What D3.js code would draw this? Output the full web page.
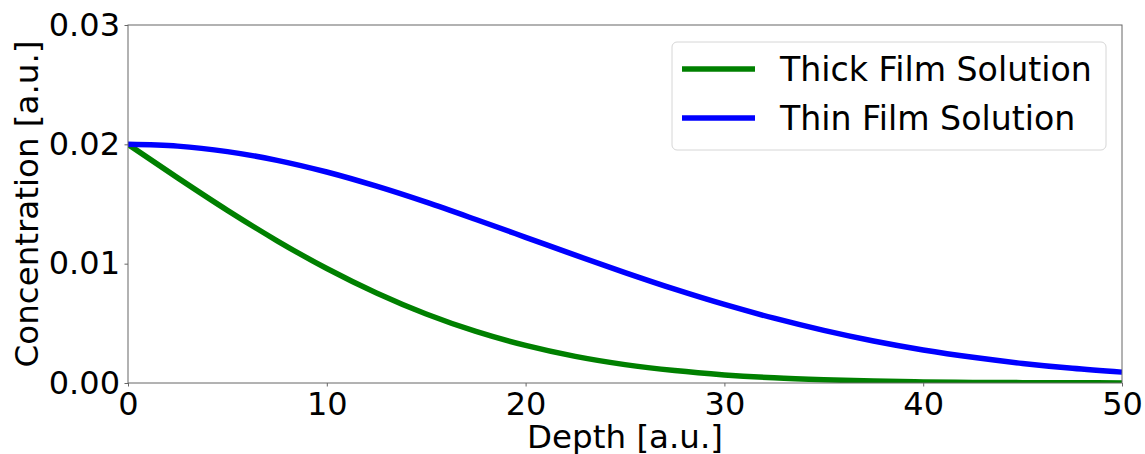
<!DOCTYPE html>
<html>
<head>
<meta charset="utf-8">
<script src="https://cdn.jsdelivr.net/npm/d3@7"></script>
<style>
  body { margin: 0; background: #fff; }
  svg { display: block; font-family: "DejaVu Sans", sans-serif; }
</style>
</head>
<body>
<svg id="chart" width="1145" height="454"></svg>
<script>
// depth samples [a.u.]
var depth = [0, 2.5, 5, 7.5, 10, 12.5, 15, 17.5, 20, 22.5, 25, 27.5, 30, 32.5, 35, 37.5, 40, 42.5, 45, 47.5, 50];
// concentration
var thickFilm = [0.0200, 0.01719, 0.01447, 0.01192, 0.00959, 0.00754, 0.00578, 0.00432, 0.00315, 0.00223,
  0.00154, 0.00104, 0.00068, 0.00043, 0.00027, 0.00016, 0.00009, 0.00005, 0.00003, 0.00002, 0.00001];
var thinFilm = [0.0200, 0.01985, 0.01939, 0.01866, 0.01768, 0.01649, 0.01515, 0.01370, 0.01221, 0.01071,
  0.00925, 0.00786, 0.00658, 0.00543, 0.00441, 0.00352, 0.00277, 0.00215, 0.00164, 0.00123, 0.00091];
var xTicks = [0, 10, 20, 30, 40, 50];
var yTicks = [0, 0.01, 0.02, 0.03];
var seriesNames = ["Thick Film Solution", "Thin Film Solution"];
var seriesColors = ["#008000", "#0000ff"];

var margin = {left: 128, top: 25, right: 23, bottom: 71};
var svg = d3.select("#chart");
var W = +svg.attr("width"), H = +svg.attr("height");
var w = W - margin.left - margin.right, h = H - margin.top - margin.bottom;

var x = d3.scaleLinear().domain([0, 50]).range([0, w]);
var y = d3.scaleLinear().domain([0, 0.03]).range([h, 0]);

var g = svg.append("g").attr("transform", "translate(" + margin.left + "," + margin.top + ")");

var series = [thickFilm, thinFilm];
var line = d3.line()
  .x(function(d, i) { return x(depth[i]); })
  .y(function(d) { return y(d); })
  .curve(d3.curveMonotoneX);

g.append("defs").append("clipPath").attr("id", "clip")
  .append("rect").attr("width", w).attr("height", h);

g.append("g").attr("clip-path", "url(#clip)")
  .selectAll("path.series").data(series).enter().append("path")
  .attr("class", "series")
  .attr("d", line)
  .attr("fill", "none")
  .attr("stroke", function(d, i) { return seriesColors[i]; })
  .attr("stroke-width", 5.5);

// frame
g.append("rect").attr("width", w).attr("height", h)
  .attr("fill", "none").attr("stroke", "#666").attr("stroke-width", 1);

var xAxis = g.append("g").attr("transform", "translate(0," + h + ")")
  .call(d3.axisBottom(x).tickValues(xTicks).tickFormat(d3.format("d")).tickSize(3.5).tickPadding(5.5));
var yAxis = g.append("g")
  .call(d3.axisLeft(y).tickValues(yTicks).tickFormat(d3.format(".2f")).tickSize(3.5).tickPadding(4.5));
[xAxis, yAxis].forEach(function(a) {
  a.select(".domain").remove();
  a.selectAll("line").attr("stroke", "#666");
  a.selectAll("text").attr("fill", "#000").style("font-size", "32px")
    .style("font-family", "DejaVu Sans, sans-serif");
});

svg.append("text")
  .attr("x", margin.left + w / 2).attr("y", 448)
  .attr("text-anchor", "middle").style("font-size", "32.5px")
  .text("Depth [a.u.]");

svg.append("text")
  .attr("transform", "translate(38," + (margin.top + h / 2) + ") rotate(-90)")
  .attr("text-anchor", "middle").style("font-size", "32.5px")
  .text("Concentration [a.u.]");

// legend
var lg = svg.append("g").attr("transform", "translate(672,42)");
lg.append("rect").attr("width", 434).attr("height", 108).attr("rx", 5)
  .attr("fill", "#fff").attr("fill-opacity", 0.8)
  .attr("stroke", "#d6d6d6").attr("stroke-width", 1);
seriesNames.forEach(function(name, i) {
  var yy = 27 + i * 49;
  lg.append("line").attr("x1", 10).attr("x2", 83).attr("y1", yy).attr("y2", yy)
    .attr("stroke", seriesColors[i]).attr("stroke-width", 5.5);
  lg.append("text").attr("x", 108).attr("y", yy + 12)
    .style("font-size", "33.2px").text(name);
});
</script>
</body>
</html>
